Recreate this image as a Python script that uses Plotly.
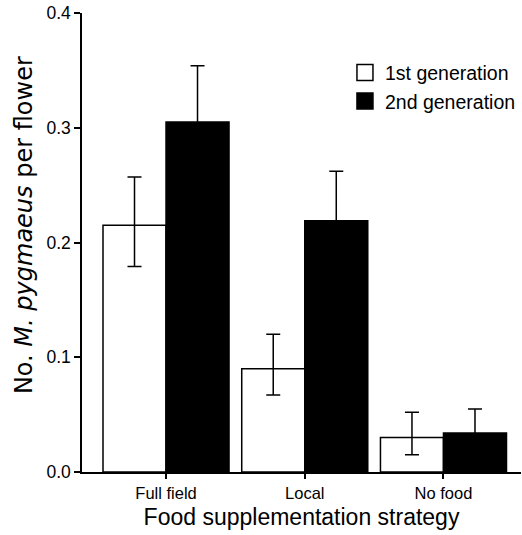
import plotly.graph_objects as go

categories = ["Full field", "Local", "No food"]
gen1_mean = [0.215, 0.090, 0.030]
gen1_err_up = [0.042, 0.030, 0.022]
gen1_err_down = [0.036, 0.023, 0.015]
gen2_mean = [0.305, 0.219, 0.034]
gen2_err_up = [0.049, 0.043, 0.021]
gen2_err_down = [0.049, 0.043, 0.021]
series_names = ["1st generation", "2nd generation"]
y_ticks = [0.0, 0.1, 0.2, 0.3, 0.4]

FONT = "Liberation Sans, Arial, sans-serif"

fig = go.Figure()
fig.add_trace(go.Bar(
    x=categories, y=gen1_mean, name=series_names[0], showlegend=False,
    marker=dict(color="white", line=dict(color="black", width=1.5)),
    error_y=dict(type="data", array=gen1_err_up, arrayminus=gen1_err_down,
                 symmetric=False, color="black", thickness=1.5, width=7),
))
fig.add_trace(go.Bar(
    x=categories, y=gen2_mean, name=series_names[1], showlegend=False,
    marker=dict(color="black", line=dict(color="black", width=1.5)),
    error_y=dict(type="data", array=gen2_err_up, arrayminus=gen2_err_down,
                 symmetric=False, color="black", thickness=1.5, width=7),
))
# legend entries
for nm, col in zip(series_names, ["white", "black"]):
    fig.add_trace(go.Scatter(
        x=[None], y=[None], mode="markers", name=nm,
        marker=dict(symbol="square", size=22, color=col,
                    line=dict(color="black", width=1.5)),
    ))

fig.update_layout(
    width=522, height=535,
    margin=dict(l=82, r=1, t=13, b=63, autoexpand=False),
    paper_bgcolor="white", plot_bgcolor="white",
    barmode="group", bargap=0.0915, bargroupgap=0,
    font=dict(family=FONT, color="black", size=16),
    showlegend=True,
    legend=dict(x=0.599, y=0.912, xanchor="left", yanchor="top",
                font=dict(size=19.5, family=FONT), bgcolor="rgba(0,0,0,0)",
                tracegroupgap=0, itemsizing="trace"),
    annotations=[dict(
        text="No. <i>M. pygmaeus</i> per flower", textangle=-90,
        xref="paper", yref="paper", x=-0.132, y=0.538,
        xanchor="center", yanchor="middle", showarrow=False,
        font=dict(size=24, family="DejaVu Sans", color="black"),
    )],
)
fig.update_xaxes(
    range=[-0.6056, 2.5588], showline=True, linecolor="black", linewidth=1.5,
    ticks="outside", ticklen=5, tickwidth=1.5, tickcolor="black",
    showgrid=False, zeroline=False,
    tickfont=dict(size=16.5, family=FONT),
    title=dict(text="Food supplementation strategy", font=dict(size=23, family=FONT), standoff=8),
)
fig.update_yaxes(
    range=[0, 0.4], tickvals=y_ticks, ticktext=[f"{v:.1f}" for v in y_ticks],
    showline=True, linecolor="black", linewidth=1.5,
    ticks="outside", ticklen=6, tickwidth=1.5, tickcolor="black",
    showgrid=False, zeroline=False,
    tickfont=dict(size=17.5, family=FONT),
)

fig.write_html("out.html")
